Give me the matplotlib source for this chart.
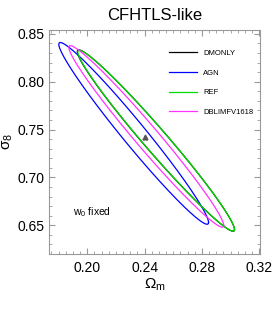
import numpy as np
import matplotlib
matplotlib.use("Agg")
import matplotlib.pyplot as plt

plt.rcParams['font.family'] = ['Liberation Sans', 'DejaVu Sans']
plt.rcParams['mathtext.fontset'] = 'custom'
plt.rcParams['mathtext.rm'] = 'Liberation Sans'
plt.rcParams['mathtext.it'] = 'Liberation Sans'

# contour parameters: centre, half extents, correlation
models = ["DMONLY", "AGN", "REF", "DBLIMFV1618"]
colors = ["black", "blue", "#00dd00", "#ff33ff"]
cen_om = [0.2479, 0.2324, 0.2481, 0.2412]
cen_s8 = [0.7385, 0.7460, 0.7383, 0.7428]
ext_om = [0.0548, 0.0522, 0.0546, 0.0540]
ext_s8 = [0.0948, 0.0950, 0.0945, 0.0949]
rho = [-0.981, -0.980, -0.981, -0.981]

fid_om = 0.2404
fid_s8 = 0.7425

fig = plt.figure(figsize=(2.74, 3.10), dpi=100)
ax = fig.add_axes([0.179, 0.181, 0.770, 0.722])

t = np.linspace(0, 2 * np.pi, 400)
lines = []
for i in range(len(models)):
    x = cen_om[i] + ext_om[i] * np.cos(t)
    y = cen_s8[i] + ext_s8[i] * (rho[i] * np.cos(t) + np.sqrt(1 - rho[i] ** 2) * np.sin(t))
    l, = ax.plot(x, y, color=colors[i], lw=0.9)
    lines.append(l)

ax.plot([fid_om], [fid_s8], marker='^', ms=3.5, color='#555555', ls='none')

ax.set_xlim(0.1734, 0.3205)
ax.set_ylim(0.620, 0.854)
ax.set_xticks([0.20, 0.24, 0.28, 0.32])
ax.set_yticks([0.65, 0.70, 0.75, 0.80, 0.85])
ax.set_xticklabels(["0.20", "0.24", "0.28", "0.32"])
ax.set_yticklabels(["0.65", "0.70", "0.75", "0.80", "0.85"])
ax.set_xticks(np.arange(0.175, 0.321, 0.005), minor=True)
ax.set_yticks(np.arange(0.62, 0.855, 0.01), minor=True)
ax.tick_params(which='both', direction='in', top=True, right=True, color='#999999', labelsize=10, pad=3)
ax.tick_params(axis='x', which='both', pad=5)
ax.tick_params(which='major', length=4.5)
ax.tick_params(which='minor', length=2.5)
for s in ax.spines.values():
    s.set_color('#999999')
    s.set_linewidth(0.8)

ax.set_title("CFHTLS-like", fontsize=12, pad=7)
ax.set_xlabel(r"$\Omega_{\rm m}$", fontsize=11, labelpad=1)
ax.set_ylabel(r"$\sigma_8$", fontsize=11, labelpad=2)

ax.text(0.1901, 0.6636, r"w$_0$ fixed", fontsize=7.5, va='center')

ax.legend(lines, models, loc='upper left', bbox_to_anchor=(0.569, 0.913), frameon=False,
          fontsize=5.5, handlelength=3.7, labelspacing=1.62, handletextpad=0.8,
          borderpad=0, borderaxespad=0)

fig.savefig("out.png", dpi=100)
